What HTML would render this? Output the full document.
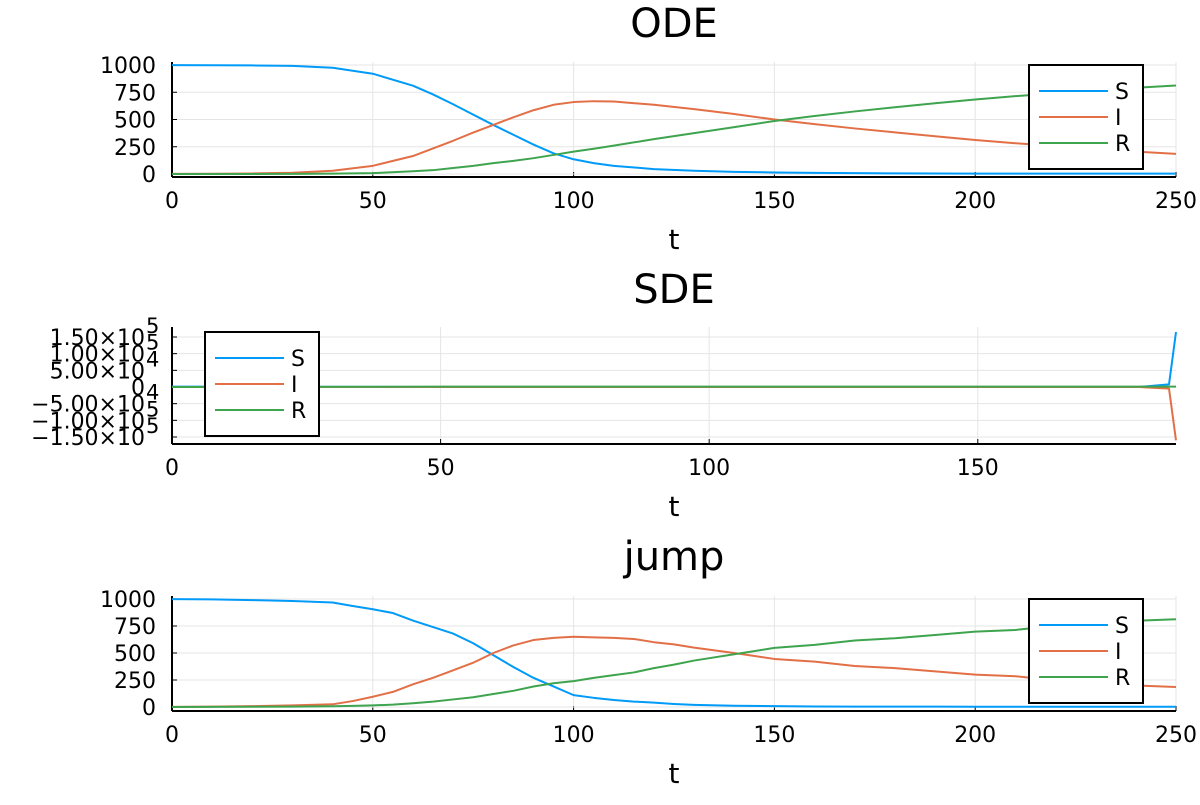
<!DOCTYPE html>
<html><head><meta charset="utf-8"><style>body{margin:0;background:#fff}svg{font-family:"DejaVu Sans","Liberation Sans",sans-serif}</style></head>
<body>
<svg id="c" width="1200" height="800" xmlns="http://www.w3.org/2000/svg"></svg>
<script>
const odeT=[0,10,20,30,40,50,60,65,70,75,80,85,90,95,100,105,110,120,130,140,150,160,170,180,190,200,210,220,230,240,250];
const odeS=[999,998,996,992,975,920,810,730,640,545,450,360,270,190,135,100,75,45,30,20,14,10,8,6,5,4,4,3,3,3,3];
const odeI=[1,2,5,12,30,75,165,235,305,380,450,520,585,635,660,668,665,635,595,550,500,458,418,382,346,312,282,256,230,206,185];
const odeR=[0,0,0,1,3,8,25,35,55,75,100,120,145,175,205,232,260,320,375,430,486,532,574,612,649,684,714,741,767,791,812];
const sdeT=[0,50,100,150,180,185.6,186.9];
const sdeS=[999,0,0,0,0,8000,165000];
const sdeI=[1,0,0,0,0,-5000,-160000];
const sdeR=[0,1000,1000,1000,1000,1000,1000];
const jT=[0,10,20,30,40,45,50,55,60,65,70,75,80,85,90,95,100,105,110,115,120,125,130,140,150,160,170,180,190,200,210,220,230,240,250];
const jS=[999,996,990,982,968,935,905,870,800,740,680,590,480,370,270,190,110,85,65,50,40,28,20,12,8,5,4,3,3,2,2,2,2,2,2];
const jI=[1,3,8,15,25,55,95,140,210,270,340,410,500,570,620,640,650,645,640,630,600,580,550,500,445,420,380,360,330,300,285,245,220,200,185];
const jR=[0,1,2,3,7,10,15,22,35,50,70,90,120,150,190,220,240,270,295,320,360,392,430,488,547,575,616,637,667,698,713,753,778,798,813];
const xTicks=[0,50,100,150,200,250];
const odeYTicks=[0,250,500,750,1000];
const sdeYTicks=[-150000,-100000,-50000,0,50000,100000,150000];
const sdeYLabels=["−1.50×10","−1.00×10","−5.00×10","0","5.00×10","1.00×10","1.50×10"];
const sdeYExp=["5","5","4","","4","5","5"];
const svg=document.getElementById('c');const NS='http://www.w3.org/2000/svg';
function mk(t,a,p){const e=document.createElementNS(NS,t);for(const k in a)e.setAttribute(k,a[k]);(p||svg).appendChild(e);return e;}
const cols=['#009af9','#e26f46','#3ea44e'];const names=['S','I','R'];
function panel(o){
const g=mk('g',{});
const X=v=>172+(v-o.x0)/(o.x1-o.x0)*1004;const Y=v=>o.yb+(v-o.y0)/(o.y1-o.y0)*(o.yt-o.yb);
const t=mk('text',{x:674,y:o.title,'font-size':40,'text-anchor':'middle'},g);t.textContent=o.name;
o.xt.forEach(v=>{if(v>o.x1)return;mk('line',{x1:X(v),x2:X(v),y1:o.top,y2:o.bot,stroke:'#e5e5e5'},g);
mk('line',{x1:X(v),x2:X(v),y1:o.bot,y2:o.bot-5,stroke:'#000'},g);
const l=mk('text',{x:Math.min(X(v),1176),y:o.bot+31,'font-size':22,'text-anchor':'middle'},g);l.textContent=v;});
o.yt2.forEach((v,i)=>{mk('line',{x1:172,x2:1176,y1:Y(v),y2:Y(v),stroke:'#e5e5e5'},g);mk('line',{x1:172,x2:177,y1:Y(v),y2:Y(v),stroke:'#000'},g);
const l=mk('text',{x:o.exp?145:156,y:Y(v)+8,'font-size':22,'text-anchor':'end'},g);l.textContent=o.yl?o.yl[i]:v;
if(o.exp&&o.exp[i]){const e=mk('text',{x:146,y:Y(v)-4,'font-size':21},g);e.textContent=o.exp[i];}});
mk('line',{x1:172,x2:1176,y1:o.bot,y2:o.bot,stroke:'#000','stroke-width':2},g);
mk('line',{x1:172,x2:172,y1:o.top,y2:o.bot,stroke:'#000','stroke-width':2},g);
const xl=mk('text',{x:674,y:o.bot+72,'font-size':28,'text-anchor':'middle'},g);xl.textContent='t';
o.series.forEach((s,k)=>{const p=mk('polyline',{points:o.t.map((tv,i)=>X(tv)+','+Y(s[i])).join(' '),fill:'none',stroke:cols[k],'stroke-width':2,'stroke-linejoin':'round'},g);});
const lg=mk('g',{},g);
mk('rect',{x:o.lx,y:o.ly,width:114,height:104,fill:'#fff',stroke:'#000','stroke-width':2},lg);
names.forEach((n,k)=>{const yy=o.ly+26+k*26;mk('line',{x1:o.lx+10,x2:o.lx+79,y1:yy,y2:yy,stroke:cols[k],'stroke-width':2},lg);
const tx=mk('text',{x:o.lx+86,y:yy+8,'font-size':22},lg);tx.textContent=n;});
}
panel({name:'ODE',title:37,top:62,bot:177,x0:0,x1:250,y0:0,y1:1000,yb:174,yt:65,xt:xTicks,yt2:odeYTicks,t:odeT,series:[odeS,odeI,odeR],lx:1029,ly:65});
panel({name:'SDE',title:303,top:327,bot:444,x0:0,x1:186.9,y0:0,y1:150000,yb:387,yt:337,xt:xTicks,yt2:sdeYTicks,yl:sdeYLabels,exp:sdeYExp,t:sdeT,series:[sdeS,sdeI,sdeR],lx:205,ly:332});
panel({name:'jump',title:570,top:596,bot:711,x0:0,x1:250,y0:0,y1:1000,yb:707,yt:599,xt:xTicks,yt2:odeYTicks,t:jT,series:[jS,jI,jR],lx:1029,ly:599});
</script>
</body></html>
